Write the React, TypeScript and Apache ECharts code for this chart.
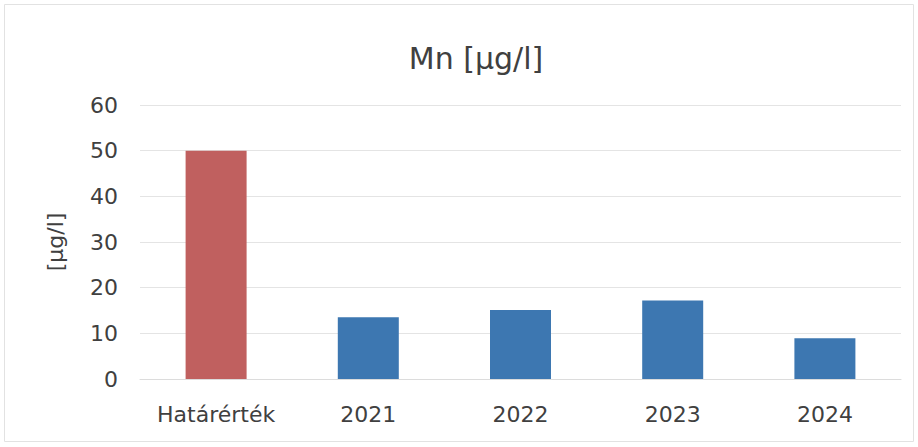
import React, { useEffect, useRef } from "react";
import * as echarts from "echarts";

const categories = ["Határérték", "2021", "2022", "2023", "2024"];
const values = [50, 13.5, 15.1, 17.2, 8.9];
const barColors = ["#C0605F", "#3D77B1", "#3D77B1", "#3D77B1", "#3D77B1"];
const yTicks = [0, 10, 20, 30, 40, 50, 60];
const titleText = "Mn [µg/l]";
const yAxisName = "[µg/l]";

export default function App() {
  const ref = useRef<HTMLDivElement>(null);
  useEffect(() => {
    document.body.style.margin = "0";
    const chart = echarts.init(ref.current!, null, { renderer: "svg" });
    const font = "DejaVu Sans";
    chart.setOption({
      animation: false,
      backgroundColor: "#ffffff",
      title: {
        text: titleText,
        left: 471,
        top: 38,
        textAlign: "center",
        textStyle: { fontFamily: font, fontSize: 30, fontWeight: "normal", color: "#404040" },
      },
      graphic: [
        {
          type: "rect",
          shape: { x: 4.5, y: 4.5, width: 909, height: 437 },
          style: { fill: "none", stroke: "#e2e2e2", lineWidth: 1 },
          silent: true,
        },
      ],
      grid: { left: 140, right: 17, top: 105, bottom: 68 },
      xAxis: {
        type: "category",
        data: categories,
        axisTick: { show: false },
        axisLine: { lineStyle: { color: "#dcdcdc" } },
        axisLabel: { interval: 0, hideOverlap: false, fontFamily: font, fontSize: 22, color: "#404040", margin: 24 },
      },
      yAxis: {
        type: "value",
        min: yTicks[0],
        max: yTicks[yTicks.length - 1],
        interval: 10,
        name: yAxisName,
        nameLocation: "middle",
        nameGap: 74,
        nameTextStyle: { fontFamily: font, fontSize: 22, color: "#404040" },
        axisLabel: { fontFamily: font, fontSize: 22, color: "#404040", margin: 22 },
        splitLine: { lineStyle: { color: "#e4e4e4" } },
        axisLine: { show: false },
        axisTick: { show: false },
      },
      series: [
        {
          type: "bar",
          barWidth: 61,
          data: values.map((v, i) => ({ value: v, itemStyle: { color: barColors[i] } })),
        },
      ],
    });
    return () => chart.dispose();
  }, []);
  return <div ref={ref} style={{ width: 918, height: 447 }} />;
}
